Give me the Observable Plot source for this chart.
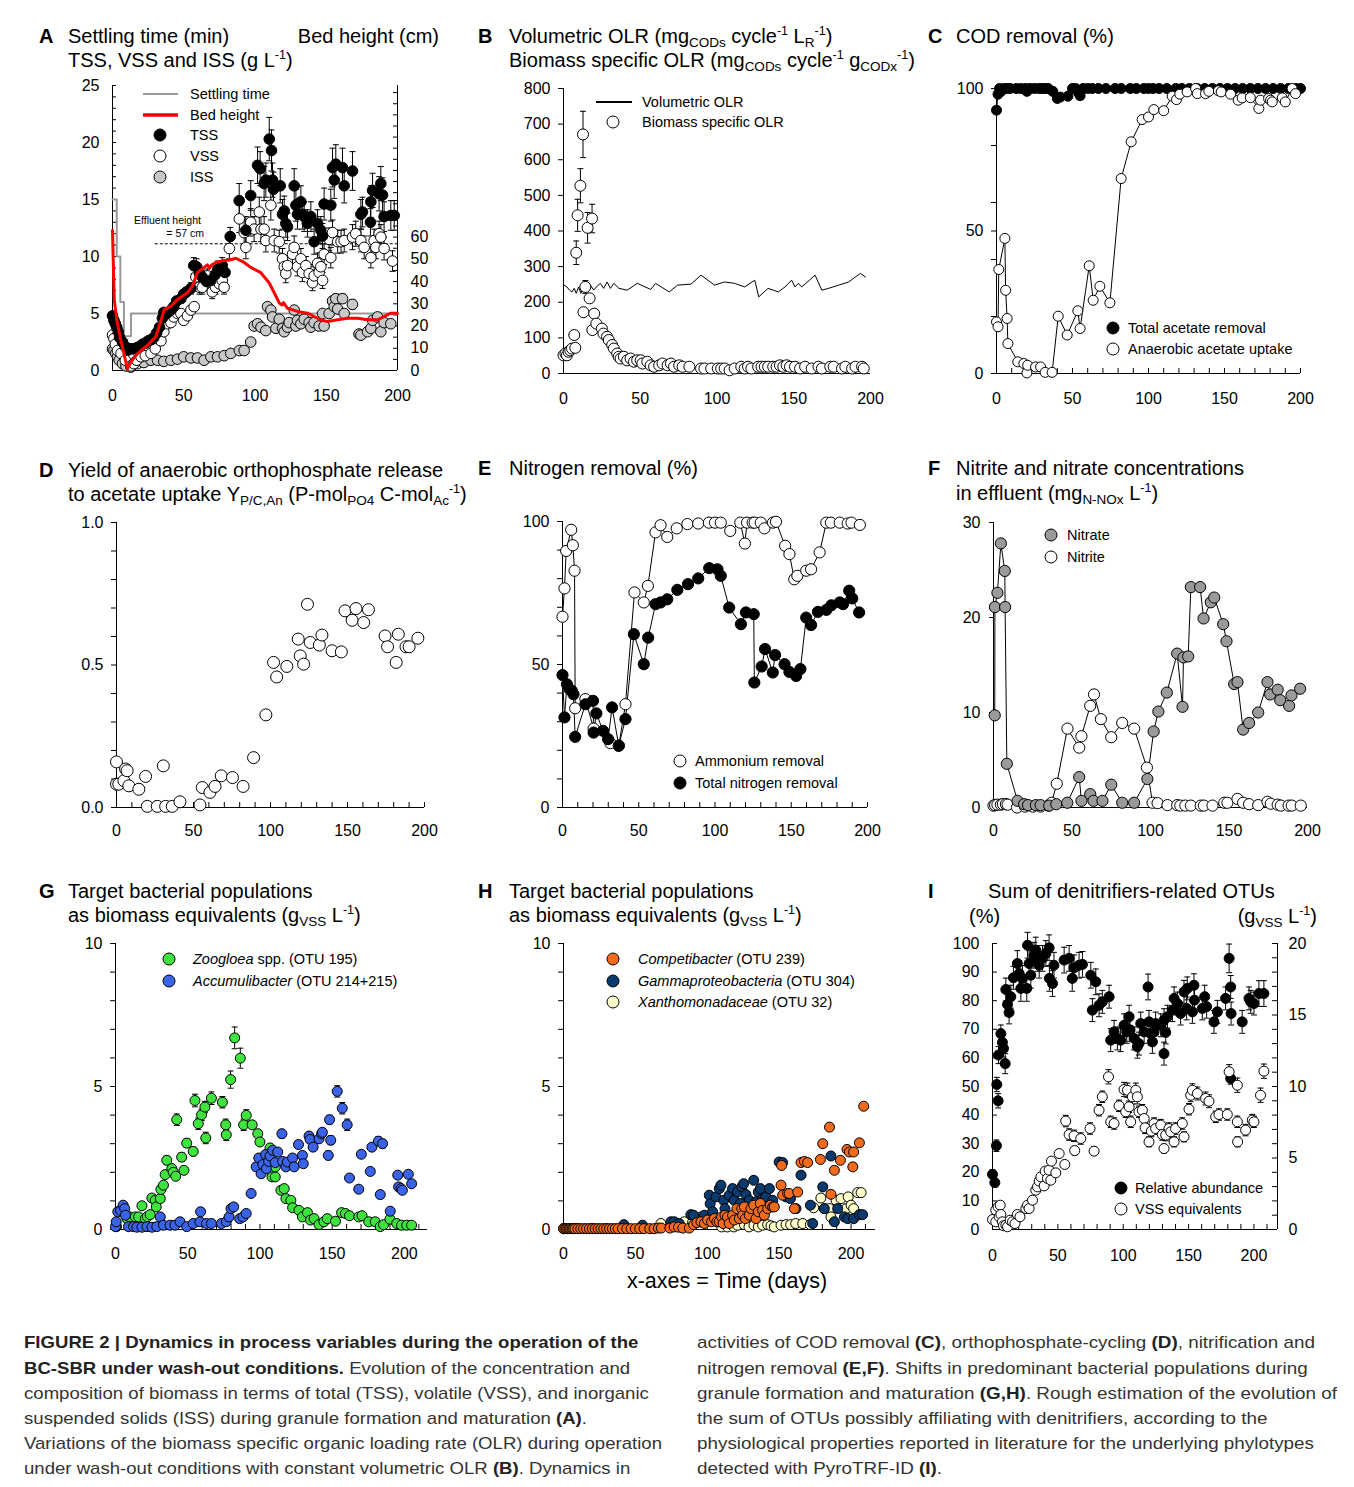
<!DOCTYPE html>
<html><head><meta charset="utf-8">
<script src="https://cdn.jsdelivr.net/npm/d3@7"></script>
<script src="https://cdn.jsdelivr.net/npm/@observablehq/plot@0.6"></script>
<style>
body{margin:0;background:#fff;}
#page{position:relative;width:1354px;height:1487px;overflow:hidden;font-family:"Liberation Sans",Arial,Helvetica,sans-serif;color:#000;background:#fff;}
.t{position:absolute;white-space:nowrap;font-size:20px;line-height:24px;}
.t sub{font-size:13.5px;vertical-align:-4px;line-height:0;}
.t sup{font-size:12.5px;vertical-align:8px;line-height:0;}
.lg{position:absolute;white-space:nowrap;font-size:14.5px;line-height:18px;}
.sm{position:absolute;white-space:nowrap;font-size:10.5px;line-height:13px;}
.cap{position:absolute;white-space:nowrap;font-size:17px;line-height:25.2px;color:#333;transform-origin:0 0;font-family:"Liberation Sans Narrow","Arial Narrow","Liberation Sans",Arial,sans-serif;}
.cap b{color:#222;}
svg.sym{position:absolute;overflow:visible;}
</style></head><body><div id="page"></div>
<script>
// ---------------- DATA ----------------
// Panel A (days, g/L, error)
const A_settling = [[0,15],[3,15],[3,10],[5.5,10],[5.5,6],[8,6],[8,3],[13,3],[13,5],[200,5]];
const A_bedHeight = [[0,63],[1.2,32],[3,22.8],[5.8,13.7],[10.5,0.8],[12.9,3.8],[17.5,7.6],[24.6,11.4],[30.4,15.2],[32.7,19.8],[36.3,27.4],[41,28.9],[45.6,31.9],[52.6,35],[56.1,38],[59.6,44],[64.3,46.4],[66.5,47.5],[68,46.2],[69.5,47.4],[72.5,48.6],[77.2,49.4],[83,49.8],[86.5,50.5],[92.4,48.6],[97,46.4],[104.1,44],[109.9,39.5],[113.5,35],[117,30.4],[119,29.5],[120,30.5],[122.8,28],[129.8,26.6],[136.8,25.8],[141.5,24.3],[146.2,22.8],[150.9,22],[157.9,22.8],[164.9,23.5],[172,23.5],[179,22.8],[186,22.8],[190.6,24.3],[195.3,25.8],[200,25.8]];
const A_effluent = [{height:57, from:30, to:200}];
const A_TSS = [[0,4.8],[1,4.4],[2,4.1],[3,3.8],[4,3.4],[5,2.9],[7,2.5],[9,2.1],[11,1.8],[13,1.9],[15,1.9],[17,2.0],[19,2.1],[21,2.3],[23,2.4],[25,2.6],[27,2.7],[29,2.9],[31,3.3],[33,3.8],[35,4.6],[36,5.1],[38,5.0],[41,5.3],[43,5.6],[45,6.1],[48,6.3],[50,6.7],[52,6.9],[55,7.2,0.5],[57,9.2,0.7],[59,9.1,0.7],[61,8.5,0.7],[63,8.2,0.6],[66,7.8,0.6],[69,7.9,0.6],[72,8.4,0.7],[74,8.9,0.7],[77,9.2,0.7],[79,8.6,0.7],[82.6,11.75,0.8],[88.9,14.9,1.5],[93.6,12.3,1.2],[97,15.35,1.3],[101.8,18.0,1.6],[103.6,17.7,1.5],[106.4,16.4,1.5],[107.6,16.7,1.5],[110,20.3,1.9],[111.6,19.3,1.8],[112.3,16.7,1.5],[113,15.9,1.5],[117.7,16.2,1.5],[119.3,13.7,1.3],[120.5,14.0,1.3],[121.6,12.9,1.2],[122.8,12.6,1.2],[127.5,16.2,1.5],[128.7,14.5,1.4],[129.8,13.7,1.3],[132.2,14.8,1.4],[133.3,13.7,1.3],[134.5,13.5,1.3],[136.8,12.9,1.2],[139.2,13.5,1.3],[141.5,11.3,1.1],[143.9,12.9,1.2],[146.2,12.3,1.2],[147.4,11.8,1.1],[148.5,14.6,1.4],[153.2,14.5,1.4],[154.4,17.8,1.7],[155.6,16.7,1.6],[156.7,18.1,1.7],[161.4,17.8,1.7],[162.6,16.2,1.5],[168.4,17.5,1.7],[174.3,13.7,1.3],[175.4,13.9,1.3],[181.3,14.8,1.4],[182.5,15.8,1.5],[181,13.0,1.2],[187.1,15.5,1.5],[188.3,16.4,1.5],[189.5,15.4,1.5],[190.6,13.5,1.3],[195.3,13.6,1.3],[197.7,13.6,1.3]];
const A_VSS = [[0,3.1],[1,2.8],[2,2.3],[3.5,1.75],[6,1.5],[9,0.9],[12.9,0.4],[15,0.6],[17,0.9],[20,1.2],[23,1.3],[27,1.5],[30,1.9],[34,2.6],[36,3.4],[38.5,4.1],[41,4.2],[43,4.7],[45.6,5.0],[48,5.0],[50,4.4],[52.6,4.8],[55,5.3],[57.3,5.6],[58.5,8.2,0.6],[61,7.3,0.6],[63,7.3,0.6],[65.5,8.0,0.6],[66.7,8.3,0.6],[70,6.9,0.6],[72.3,7.3,0.6],[75,7.6,0.6],[77,7.9,0.6],[78.3,7.3,0.6],[82,10.7,0.9],[89,13.3,1.2],[92.4,12.1,1.1],[93.6,10.8,1.0],[97,13.0,1.2],[99.4,12.4,1.1],[103,13.9,1.3],[104.2,12.4,1.1],[106.4,12.4,1.1],[107.6,11.4,1.0],[111.1,14.5,1.3],[113.5,11.4,1.0],[117,11.3,1.0],[119.3,9.8,0.9],[120.5,9.1,0.8],[121.6,8.5,0.8],[122.8,9.2,0.8],[126.3,10.2,0.9],[127.5,10.8,1.0],[129.8,9.1,0.8],[132.2,9.8,0.9],[133.3,8.6,0.8],[135.7,9.2,0.8],[138,8.5,0.8],[140.4,7.7,0.7],[141.5,8.3,0.8],[143.9,9.4,0.9],[145,8.6,0.8],[146.2,9.1,0.8],[147.4,7.9,0.7],[148.5,10.2,0.9],[152,11.5,1.0],[153.2,9.9,0.9],[154.4,12.1,1.1],[158,11.3,1.0],[160.4,11.3,1.0],[162.6,11.4,1.0],[168.4,11.7,1.1],[170.7,12.0,1.1],[174.3,11.4,1.0],[176.6,10.8,1.0],[181.3,9.9,0.9],[183.6,11.4,1.0],[184.8,10.8,1.0],[187.1,12.0,1.1],[188.3,11.7,1.1],[190.6,10.7,1.0],[196.5,9.6,0.9]];
const A_ISS = [[0,1.9],[1,1.75],[2.3,1.5],[3.5,1.2],[4.7,0.9],[7,0.6],[9.4,0.4],[12.9,0.3],[17.5,0.6],[22,0.7],[27,0.9],[31.6,0.9],[36,0.8],[41,0.9],[45.6,1.0],[50,1.2],[55,1.1],[59.6,1.1],[64.3,0.9],[69,1.2],[73.7,1.2],[78.4,1.3],[83,1.5],[89,1.75],[92.4,1.75],[97,2.5],[99.4,3.9],[101.8,4.1],[104.2,3.8],[107.6,3.5],[108.8,5.6],[111.1,5.3],[112.3,4.7],[114.7,3.7],[117,4.5],[119.3,3.7],[120.5,3.4],[122.8,3.8],[124,4.2],[127.5,5.3],[128.7,3.9],[129.8,4.4],[132.2,4.1],[134.5,4.5],[138,4.2],[139.2,3.8],[141.5,4.2],[145,3.9],[147.4,5.0],[148.5,3.9],[152,5.0],[154.4,6.1,0.4],[155.6,5.6],[156.7,6.3,0.4],[158,5.4],[161.4,6.3,0.4],[162.6,5.0],[168.4,5.8,0.4],[173,3.2],[174.3,3.1],[179,3.4],[181.3,3.7],[182.5,4.4],[186,4.7],[188.3,3.4],[190.6,4.2],[195.3,4.1]];
// Panel B
const B_volumetric = [[0.4,248],[2.2,243],[3.9,234],[5.5,229],[7,239],[8.3,225],[9.8,243],[11.4,225],[13.1,253],[15.3,243],[17.5,248],[19.7,234],[21.4,243],[24,253],[26.2,239],[28.4,257],[30.6,239],[32.8,253],[36.1,239],[41.5,234],[48.1,253],[56.8,236],[60,253],[68.9,229],[74.3,248],[83.1,251],[89.6,276],[98.4,248],[104.9,257],[111.5,253],[118,243],[124.6,262],[127.2,215],[133.3,239],[139.9,229],[144.3,243],[148.6,262],[150.8,243],[153,253],[155.2,243],[163.9,276],[168.3,234],[172.7,239],[179.2,248],[185.8,257],[190.2,271],[193.4,281],[196.7,271]];
const B_specific = [[0,51],[1.3,56],[2.2,51],[3.3,61],[4.4,65],[5.5,70],[7,108],[7.7,72],[8.3,339,33],[9.2,444,45],[11,527,48],[12.7,671,65],[13,172],[14.2,243,18],[15.7,409,43],[17,211],[18.6,435,40],[18.8,122],[20,168],[21.4,140],[25,126],[26,112],[28.4,103],[29.5,94],[31.7,80],[32.8,70],[35,56],[36,47],[37.2,42],[39.3,47],[41.5,37],[43.7,42],[45.9,33],[48,37],[50.3,37],[51.4,28],[54.6,33],[56.8,23],[59,19],[62.3,23],[64.5,28],[67.8,23],[70,28],[72,19],[75.4,23],[77.6,19],[82,19],[89.6,14],[91.8,14],[96.2,14],[100.5,14],[102.7,14],[105,14],[108.2,9],[111.5,14],[115.8,19],[118,14],[120.2,19],[122.4,14],[126.8,19],[129,19],[131.1,19],[133.3,19],[136.6,19],[138.8,19],[141,23],[143.2,19],[145.4,23],[147.5,19],[150.8,19],[154.1,14],[157.4,19],[161.7,14],[166.1,19],[168.3,14],[173.8,19],[176,19],[181.4,14],[183.6,19],[188,14],[190.2,19],[194.5,19],[195.6,14]];
// Panel C
const C_total = [[0,92.4],[1,98],[2,100],[3,99],[5,100],[7,100],[9,100],[13,100],[16,100],[19,100],[20,99],[22,100],[25,100],[28,100],[30,100],[32,100],[34,100],[37,99],[40,96.5],[42,97],[47,97.3],[50,100],[52,100],[54,98.5],[55,97.5],[57,100],[60,100],[63,100],[67,100],[72,100],[78,100],[82,100],[88,100],[92,100],[97,100],[100,100],[103,100],[107,100],[112,100],[118,100],[122,100],[127,100],[132,100],[137,100],[142,100],[147,100],[152,100],[157,100],[162,100],[167,100],[172,100],[177,100],[182,100],[187,100],[192,100],[197,100],[200,100]];
const C_anaerobic = [[0,18.1],[1,16.4],[1.5,36.5],[5.5,47.4],[6,29.2],[7,19.3],[7.5,10.5],[14,4.1],[18,3.5],[20,0.2],[20.5,2.9],[25.7,2.3],[29,2.3],[32,0.4],[36.6,0.4],[40.6,20.1],[46.5,13.5],[53.5,22],[55,15.8],[61,37.8],[63.6,25.7],[68,30.6],[74.6,24.8],[82,68.4],[88.6,81.3],[95.8,89.1],[100,90],[103.5,92.6],[110,92.2],[115.6,97.3],[118.4,96.1],[120.6,98],[125.4,98.8],[131,100],[132.1,98.2],[137.5,98.2],[139.7,99],[146,99.2],[147.8,98.8],[154,98],[159,95.9],[161.6,96.7],[167,96.8],[172.6,93],[173.7,95.9],[179,96.5],[180.3,95.9],[181.4,95.3],[188,96.7],[190,95.3],[194.5,100],[196.7,98.2]];
// Panel D
const D_yield = [[0,0.082],[0,0.16],[1.5,0.082],[4.8,0.094],[5.9,0.135],[6.9,0.129],[8,0.076],[14.5,0.064],[18.9,0.109],[20,0.004],[26.5,0.004],[30.4,0.146],[31.9,0.004],[36.2,0.004],[41.2,0.02],[54.2,0.009],[55.7,0.07],[60.7,0.053],[64,0.074],[68,0.111],[75.3,0.105],[82.2,0.074],[89,0.175],[97,0.325],[102,0.509],[104,0.458],[110.6,0.495],[118,0.591],[119.3,0.532],[121.5,0.503],[124,0.713],[125.8,0.579],[131.7,0.57],[133.4,0.605],[140,0.55],[146,0.546],[148.4,0.69],[153,0.657],[155.5,0.698],[160.5,0.649],[163.6,0.694],[174.4,0.602],[176,0.564],[181.6,0.509],[183,0.608],[188,0.564],[190,0.564],[195.7,0.594]];
// Panel E
const E_ammonium = [[0,66.7],[1.3,76.6],[2.4,89.7],[5.7,97.1],[6.8,91.7],[7.9,82.8],[8.3,34.7],[15,37.9],[20.4,27.6],[31.4,22.5],[36.9,21.6],[41.3,36.1],[47.2,75.2],[53.3,71.7],[56,77.5],[61,96.2],[64.3,98.7],[68.7,94.6],[74.9,97.6],[81.9,99.1],[89,99.3],[96,99.6],[100,99.6],[103.8,99.6],[110,96.7],[116.6,99.6],[119.6,92.3],[121,99.6],[124.7,99.6],[126,99.6],[130,99.6],[132.4,97.6],[138,99.6],[140,99.9],[146,91.5],[148.8,88.6],[152,79.8],[154,81],[159.8,82.8],[163,83.3],[168.6,89.2],[173,99.6],[176,99.6],[181.8,99.6],[187,99.3],[189.5,99.6],[195,98.8]];
const E_totalN = [[0,46.3],[1.3,31.5],[2.9,43.1],[4.6,41.4],[6.1,40.8],[7.2,39.6],[8.3,24.7],[15,36.1],[20,37.3],[20.4,26.2],[22.2,32.9],[26.6,26.8],[29.9,23.9],[32.5,35],[36.9,21.6],[41.3,30.9],[46.8,60.6],[53.3,50.1],[56.2,59.4],[61,71.1],[64.3,71.7],[68.7,72.8],[75.3,76.1],[82.3,78.1],[89,80.1],[96.2,83.7],[101.6,83.3],[103.8,81],[109.3,69.9],[117,64.1],[120.3,68.2],[125.4,67.6],[125.8,43.7],[130.6,49.3],[132.8,55.4],[137.9,47.2],[139.4,53.3],[145.6,50.1],[148.8,47.4],[153.2,46],[156,48.4],[159.8,66.4],[163,63.8],[167.5,68.4],[173,69.1],[176.3,70.7],[181.8,71.7],[184,71.1],[188,75.8],[190,73.1],[194.5,68.2]];
// Panel F
const F_nitrate = [[0.8,9.7],[0.9,21.1],[2.5,22.6],[4.7,27.8],[7.2,24.9],[7.4,21.1],[8.5,4.6],[15.3,0.7],[19.5,0.35],[22,0.25],[27,0.25],[30,0.25],[35.5,0.2],[40,0.35],[47,0.5],[54.6,3.2],[56,0.7],[61.6,1.4],[63.7,0.7],[69.4,0.7],[75,2.4],[82,0.5],[89.6,0.5],[98,3.0],[102,8.0],[105,10.1],[110.4,12.1],[117,16.2],[120.4,10.6],[121,15.8],[124,15.9],[125.7,23.2],[131.6,23.2],[133.8,19.9],[138.4,21.6],[140.6,22.1],[146.3,19.3],[148.4,17.5],[153.3,13],[155.4,13.2],[159,8.2],[162.8,8.9],[168.6,10],[174.5,13.2],[176.2,11.9],[181,12.4],[182.6,11.3],[188.3,10.7],[189.8,11.8],[195.3,12.5]];
const F_nitrite = [[0,0.2],[1,0.25],[2.5,0.3],[4.7,0.3],[6,0.35],[7.9,0.35],[9,0.3],[15,0],[20,0.1],[25,0.1],[30,0.1],[35,0.2],[37,0.5],[40.3,2.5],[47.1,8.3],[54.6,6.3],[56,7.5],[61.6,10.7],[64,11.9],[68.4,9.3],[75,7.4],[82,8.9],[89.6,8.3],[97.7,4.2],[101.3,0.5],[104.5,0.46],[110.8,0.25],[117,0.25],[119,0.2],[122.2,0.2],[125.7,0.2],[132,0.2],[134,0.2],[139.5,0.2],[147,0.5],[149,0.5],[155.4,0.9],[159,0.5],[162.8,0.35],[168.6,0.25],[174.5,0.6],[176.6,0.4],[181,0.3],[183,0.2],[188,0.2],[190,0.2],[195.7,0.2]];
// Panel G
const G_zoogloea = [[0.7,0.1],[8,0.38],[10,0.44],[13.7,0.44],[16,0.44],[18.3,0.83],[20.6,0.38],[22,0.45],[24,0.52],[25.2,1.1],[27.5,1.02],[28.2,0.79],[31,1.08],[31.4,1.4],[33.2,1.55],[34.4,1.92],[35.5,2.42,0.15],[39,2.13],[40,2.0],[41.7,1.86],[42.4,3.84,0.2],[45.8,2.53,0.15],[47.4,2.07],[49.3,3.02,0.15],[53.8,2.73,0.15],[55,4.51,0.22],[57.3,3.7,0.2],[59.6,4.01,0.2],[61.9,4.28,0.2],[62.5,3.2,0.2],[66.4,4.59,0.22],[74,4.45,0.2],[76.3,3.66,0.2],[76.7,3.31,0.2],[79.7,5.24,0.3],[82.5,6.7,0.38],[86.4,5.99,0.35],[88.7,3.66,0.2],[90.5,3.99,0.2],[94.6,3.66],[98.5,3.35],[100,3.06],[107,2.85],[108.4,1.84],[110.6,1.84],[110.6,2.19],[114.5,1.37],[116.8,1.43],[118,1.08],[121.4,1.02],[122.6,0.76],[127,0.67],[129.4,0.44],[132.9,0.59],[135,0.33],[137.5,0.38],[140.9,0.17],[144.3,0.27],[146.6,0.38],[152.3,0.29],[156.5,0.59],[159.2,0.56],[162,0.48],[168.4,0.44],[170.7,0.48],[175.3,0.27],[179.8,0.27],[183.3,0.1],[185.6,0.17],[190,0.36],[194.7,0.21],[198,0.15],[201.6,0.15],[205,0.15]];
const G_accumulibacter = [[0,0.1],[0.5,0.27],[1.6,0.62],[3.5,0.67],[5.3,0.85],[6.4,0.73],[6.9,0.5],[9,0.1],[12.5,0.1],[14.8,0.08],[18.3,0.08],[21.8,0.1],[25.2,0.08],[28.6,0.1],[31,0.44],[33.2,0.15],[37.8,0.15],[41.2,0.15],[44.7,0.27],[49.3,0.1],[53.8,0.21],[58.4,0.27],[58.9,0.62],[63,0.21],[66.4,0.21],[73.3,0.21],[76.7,0.27],[78.6,0.44],[80,0.73],[81.8,0.79],[86,0.38],[88.3,0.44],[90.5,0.56],[93.9,1.26],[97.4,2.19],[99.2,2.5],[100.8,1.95],[102,2.27],[104,2.62],[104.5,2.13],[106,2.38],[107,2.57],[108.8,2.77],[110.6,2.34],[112.3,2.71],[115.2,3.35,0.15],[115.7,2.38],[118,2.19],[119,2.36],[122.6,2.5],[123.7,2.19],[126.7,2.97],[129.4,2.59],[130,2.3],[134,3.27],[134.7,3.15],[136.8,2.88],[140.9,3.17],[142.7,3.35],[143.2,3.4],[147.3,2.59,0.15],[148.2,3.84,0.15],[149,3.12,0.15],[153.5,4.83,0.2],[157,4.24,0.2],[160.4,3.66,0.2],[162,1.8],[168.4,1.41],[170.2,2.63],[176.4,2.03],[177.5,2.88],[182,3.09,0.15],[183.3,1.22],[184.9,3.0,0.15],[190.2,0.64],[195.4,1.9],[196,1.49],[197.7,1.43],[198.6,1.37],[202.7,1.93],[205,1.6]];
// Panel H
const H_competibacter = [[0,0.03],[1,0.03],[2,0.03],[3,0.03],[4,0.03],[5,0.03],[6,0.03],[7,0.03],[8,0.03],[10,0.03],[12,0.03],[14,0.03],[16,0.03],[18,0.03],[20,0.03],[22,0.03],[24,0.03],[26,0.03],[28,0.03],[30,0.03],[32,0.03],[34,0.03],[36,0.03],[38,0.03],[41,0.03],[44,0.03],[47,0.03],[50,0.03],[53,0.03],[56,0.03],[60,0.03],[63,0.03],[66,0.05],[68,0.05],[74,0.05],[77,0.09],[80,0.08],[83,0.05],[87.5,0.05],[90.5,0.17],[92.8,0.24],[95.6,0.27],[98,0.21],[100.2,0.33],[103,0.27],[105,0.38],[106.7,0.27],[108.3,0.27],[110,0.44],[111,0.21],[112.3,0.5],[114,0.44],[115.3,0.21],[117.6,0.5],[118.8,0.33],[120.6,0.73],[122.3,0.38],[124,0.73],[124.6,0.5],[125.8,0.79],[126.5,0.38],[129.2,0.5],[130.4,0.73],[132.3,0.85],[133.9,0.38],[135.5,0.62],[136.9,0.91],[138.5,0.67],[139.7,0.5],[142,0.73],[143.9,0.85],[145.5,0.79],[146.6,0.79],[151.3,1.55],[151.7,2.24],[152.4,1.2],[155.9,1.26],[157,1.26],[160.6,0.73],[162.9,1.31],[165.2,2.34],[167.5,2.38],[169.8,2.34],[178.7,2.45],[180.3,3.0],[185,3.58],[186,1.23],[188.4,2.07],[192.6,2.42],[197.2,2.8],[198.8,2.71],[201.2,2.19],[201.8,2.71],[205.8,3.03],[208.8,4.31]];
const H_gammaproteo = [[0,0.03],[10,0.03],[20,0.03],[30,0.03],[42,0.17],[55,0.15],[74.7,0.27],[77,0.27],[80.5,0.21],[88.6,0.52],[90.5,0.5],[95.6,0.27],[98,0.5],[101.4,1.2],[102,0.9],[103.7,0.62],[106,1.14],[108.4,1.43],[109.5,1.55],[111.4,1.02],[112.3,0.73],[115.3,1.2],[117.6,1.43],[118.8,1.02],[121,1.31],[123,0.91],[124,1.49],[125.3,1.6],[126.9,1.22],[129.2,1.02],[132.3,1.72],[133.9,0.97],[135.5,1.31],[136.9,1.43],[138.5,1.08],[140.8,1.14],[143.2,1.43],[145.5,1.02],[150,2.36],[152.4,2.34],[154.8,1.14],[157.8,1.08],[161.7,0.73],[165.2,1.9],[171.7,0.85],[173.3,0.21],[180.3,1.49],[181.4,0.73],[186,2.57],[188.4,0.27],[190.7,0.73],[195.4,0.44],[197.7,0.38],[201.8,0.38],[205.8,0.52],[208,0.52]];
const H_xanthomonad = [[67.7,0.21],[75.9,0.17],[84,0.27],[89.8,0.25],[95.6,0.44],[110,0.09],[114,0.09],[118.5,0.09],[121,0.15],[125.8,0.17],[129,0.09],[132.5,0.15],[135.5,0.09],[138.5,0.15],[142,0.17],[144.3,0.13],[146.6,0.09],[151.3,0.15],[154.8,0.17],[158,0.17],[161.5,0.21],[166.4,0.21],[171.7,0.17],[174,0.76],[179,1.1],[181.4,0.73],[185,0.73],[186,0.44],[189.6,1.02],[193,1.08],[196.5,0.73],[198,1.14],[200,0.85],[201.8,0.73],[204.6,1.29],[207,1.29]];
// Panel I (relative abundance %, VSS equivalents g/L, error)
const I_relative = [[0,19.3,1.5],[1.8,16.4,1.5],[3,29.3,2],[3.3,50.7,2.5],[4.3,45,2.5],[4.6,61,3],[6.4,68.5,3],[7.6,65.4,3],[8.4,63.3,3],[9.7,58,3.5],[10.2,83.9,4],[11.5,78.7,4],[12.7,75.9,4],[14,81.4,4],[16,88,4],[19,93,4.5],[20.4,89.5,4.5],[21.7,84.3,4.5],[22.9,87.8,4.5],[26.2,84.3,4.5],[26.8,99.4,4.5],[28,93,4.5],[29.3,88.9,4.5],[31.8,95.9,4.5],[33.1,97.7,4.5],[34.4,94.8,4.5],[35.7,92.4,4.5],[38.2,94.8,4.5],[40.8,96.5,4.5],[43.3,98.5,4.5],[43.5,87.8,4.5],[45.9,86,4.5],[47,92.4,4.5],[54.8,94.2,4.5],[58.6,94.8,4.5],[61,87.8,4.5],[62.4,91.5,4.5],[66.2,92.4,4.5],[68.8,92.7,4.5],[75.2,88.9,4.5],[76.4,76.7,4],[79,86.6,4.5],[81.5,78.4,4],[84,79.6,4],[89.2,81.4,4],[90.4,66.2,4],[93,69.1,4],[95.5,66.8,4],[98,66.2,4],[100.6,71.4,4],[102.7,69.1,4],[104.5,74.4,4],[105.2,69.8,4],[108.3,66.8,4],[110.8,63.9,4],[112,65,4],[113.4,72,4],[116,69.1,4],[119,84.8,4.5],[119.7,72.6,4],[121,68.5,4],[122.3,65.6,4],[123.6,69.1,4],[124.8,72,4],[128.7,71.4,4],[131.2,73.2,4],[131.2,61.5,4],[132.5,68.9,4],[133.8,74.4,4],[137.6,76.7,4],[138.9,80.8,4],[141.4,79,4],[143.9,75.5,4],[146.5,83.1,4],[148.5,77.3,4],[149,84.3,4],[152.9,76.1,4],[154.1,85.4,4],[154.5,80.2,4],[160.5,77.3,4],[162.3,81.4,4],[163.8,77.9,4],[169.4,72.6,4],[172,76.1,4],[178.3,80.8,4],[181,94.8,5],[182.2,84.8,4],[182.5,75.5,4],[182.2,52.8,2],[191,72.6,4],[196.2,80.8,4],[197.5,79.6,4],[200,79,4],[203.8,82.5,4.5],[207.6,82.5,4.5]];
const I_vss = [[0,0.7],[2.5,0.54],[2.5,1.35],[4.3,1.59],[5.1,0.89],[5.9,1.7],[6.4,1.05],[7.6,0.54],[8.4,0.26],[10.2,0.3],[11.5,0.19],[13.5,0.65],[15.3,0.54],[17.2,0.42],[19,1.05],[21,0.89],[25.5,1.47],[26.8,1.7],[28,1.47],[30.6,2.05],[33.1,2.75],[34.4,2.98],[35.7,3.38],[37,3.68],[39.5,3.05],[40.3,4.08],[42,3.57],[43.3,4.15],[44.6,3.45],[45.1,4.78],[48.4,3.96],[51,5.31],[55.3,4.55],[56,7.58,0.4],[58.6,6.64,0.4],[62.4,6.55,0.4],[62.9,5.52,0.3],[67.5,6.36,0.4],[74.6,7.06,0.4],[77.7,5.48,0.3],[81.5,8.34,0.4],[84,9.28,0.4],[88.7,10.68,0.5],[90.4,7.53,0.4],[93,7.41,0.4],[96.8,8.65,0.4],[100.6,9.79,0.5],[101.9,8.23,0.4],[103.2,9.74,0.5],[104.5,8.58,0.4],[105.7,7.53,0.4],[107,9.28,0.5],[109.6,9.74,0.5],[110.8,9.28,0.5],[112,8.23,0.4],[114.6,8.34,0.4],[116,7.76,0.4],[116.7,7.11,0.4],[119.7,6.13,0.35],[121.5,6.88,0.4],[123.6,7.41,0.4],[124.8,7.06,0.4],[128.7,7.3,0.4],[129.9,6.64,0.4],[131.2,5.66,0.3],[132.5,6.6,0.4],[135,7.06,0.4],[136.3,6.83,0.4],[138.9,6.13,0.35],[140,7.06,0.4],[145.2,7.41,0.4],[146.5,6.48,0.35],[150.3,8.41,0.4],[151.6,9.39,0.45],[152.9,9.74,0.45],[156.7,9.51,0.45],[163,9.16,0.45],[165.6,8.97,0.45],[170.7,7.88,0.4],[173.2,8.04,0.4],[179.6,8.04,0.4],[181,11.03,0.5],[187.3,7.53,0.4],[187.3,10.09,0.5],[187.5,6.13,0.35],[193.6,6.95,0.4],[198.7,7.65,0.4],[200,7.53,0.4],[205,9.39,0.5],[207.6,11.07,0.5]];
// Tick labels
const ticksDays = [0,50,100,150,200];
const ticksA = [0,5,10,15,20,25];
const ticksABed = [0,10,20,30,40,50,60];
const ticksB = [0,100,200,300,400,500,600,700,800];
const ticks0_100 = [0,50,100];
const ticksD = [0,0.5,1];
const ticksF = [0,10,20,30];
const ticksGH = [0,5,10];
const ticksI = [0,10,20,30,40,50,60,70,80,90,100];
const ticksIRight = [0,5,10,15,20];

// ---------------- HELPERS ----------------
const page = document.getElementById("page");
const FONT = '"Liberation Sans", Arial, Helvetica, sans-serif';
const KA = 0.195;   // bed height (cm) -> left axis units of panel A
const KI = 5;       // g/L -> % axis units of panel I
const X = d => d[0], Y = d => d[1];
const CAP = {draw(ctx, size){ const w = Math.sqrt(size / Math.PI); ctx.moveTo(-w, 0); ctx.lineTo(w, 0); }};
const M = {l:60, r:60, t:14, b:40};

function panel(g, xdom, ydom, marks){
  const svg = Plot.plot({
    width: g.x1 - g.x0 + M.l + M.r, height: g.y1 - g.y0 + M.t + M.b,
    marginLeft: M.l, marginRight: M.r, marginTop: M.t, marginBottom: M.b,
    x: {domain: xdom}, y: {domain: ydom},
    style: {fontSize: "16px", fontFamily: FONT, color: "#000", background: "transparent", overflow: "visible"},
    marks
  });
  svg.style.position = "absolute";
  svg.style.left = (g.x0 - M.l) + "px";
  svg.style.top = (g.y0 - M.t) + "px";
  page.appendChild(svg);
}
const W = g => g.x1 - g.x0, H = g => g.y1 - g.y0;
const xLabels = (vals, pad = 18) => Plot.axisX(vals, {anchor: "bottom", tickSize: 0, tickPadding: pad, label: null});
const yLabels = (vals, fmt, pad = 13) => Plot.axisY(vals, {anchor: "left", tickSize: 0, tickPadding: pad, label: null, tickFormat: fmt || (d => String(d))});
const yLabelsR = (vals, fmt, pad = 13) => Plot.axisY(vals, {anchor: "right", tickSize: 0, tickPadding: pad, label: null, tickFormat: fmt});
const xTicksUp = (vals, g, len = 5) => Plot.tickX(vals, {x: d => d, insetTop: H(g) - len, stroke: "#000"});
const yTicksOut = (vals, g, len = 5) => Plot.tickY(vals, {y: d => d, insetRight: W(g) - len, dx: -len, stroke: "#000"});
const yTicksInL = (vals, g, len = 5) => Plot.tickY(vals, {y: d => d, insetRight: W(g) - len, stroke: "#000"});
const yTicksInR = (vals, g, len = 5) => Plot.tickY(vals, {y: d => d, insetLeft: W(g) - len, stroke: "#000"});
const frameLines = (xdom, ydom, right = false) => [
  Plot.ruleX([xdom[0]], {stroke: "#000", strokeWidth: 1}),
  Plot.ruleY([ydom[0]], {stroke: "#000", strokeWidth: 1}),
  ...(right ? [Plot.ruleX([xdom[1]], {stroke: "#000", strokeWidth: 1})] : [])
];
const dots = (data, fill, r, yf = Y) => Plot.dot(data, {x: X, y: yf, r, fill, stroke: "#000", strokeWidth: 1});
const line = (data, stroke = "#000", w = 1, yf = Y, extra = {}) => Plot.line(data, {x: X, y: yf, stroke, strokeWidth: w, ...extra});
function errs(data, yf = Y, sc = 1, cap = 3){
  const e = data.filter(d => d[2]);
  return [
    Plot.ruleX(e, {x: X, y1: d => yf(d) - d[2] * sc, y2: d => yf(d) + d[2] * sc, stroke: "#000", strokeWidth: 1}),
    Plot.dot(e, {x: X, y: d => yf(d) + d[2] * sc, symbol: CAP, r: cap, fill: "none", stroke: "#000", strokeWidth: 1}),
    Plot.dot(e, {x: X, y: d => yf(d) - d[2] * sc, symbol: CAP, r: cap, fill: "none", stroke: "#000", strokeWidth: 1})
  ];
}
const range = (a, b, s) => d3.range(a, b + s / 2, s);

function text(html, x, yc, cls = "t", align = "left", lh = 24){
  const d = document.createElement("div");
  d.className = cls; d.innerHTML = html;
  if (align === "right") d.style.right = (1354 - x) + "px"; else d.style.left = x + "px";
  d.style.top = (yc - lh / 2) + "px";
  page.appendChild(d); return d;
}
function symCircle(cx, cy, fill, r = 6){
  const s = document.createElementNS("http://www.w3.org/2000/svg", "svg");
  s.setAttribute("class", "sym"); s.setAttribute("width", 2 * r + 2); s.setAttribute("height", 2 * r + 2);
  s.style.left = (cx - r - 1) + "px"; s.style.top = (cy - r - 1) + "px";
  s.innerHTML = `<circle cx="${r + 1}" cy="${r + 1}" r="${r}" fill="${fill}" stroke="#000" stroke-width="1"/>`;
  page.appendChild(s);
}
function symLine(x0, x1, cy, stroke, w){
  const s = document.createElementNS("http://www.w3.org/2000/svg", "svg");
  s.setAttribute("class", "sym"); s.setAttribute("width", x1 - x0); s.setAttribute("height", 8);
  s.style.left = x0 + "px"; s.style.top = (cy - 4) + "px";
  s.innerHTML = `<line x1="0" x2="${x1 - x0}" y1="4" y2="4" stroke="${stroke}" stroke-width="${w}"/>`;
  page.appendChild(s);
}
const lgText = (html, x, yc) => text(html, x, yc, "lg", "left", 18);

// ---------------- PANEL A ----------------
const gA = {x0: 112, x1: 397, y0: 85, y1: 370};
panel(gA, [0, 200], [0, 25], [
  ...frameLines([0, 200], [0, 25], true),
  yTicksInL(range(0, 25, 1), gA, 4),
  yTicksInR(range(0, 125, 5).map(c => c * KA), gA, 4),
  yLabels(ticksA), yLabelsR(ticksABed.map(c => c * KA), d => String(Math.round(d / KA))),
  xLabels(ticksDays, 19),
  line(A_settling, "#999", 2),
  Plot.ruleY(A_effluent, {y: d => d.height * KA, x1: d => d.from, x2: d => d.to, stroke: "#000", strokeWidth: 1, strokeDasharray: "3,2"}),
  ...errs(A_ISS), ...errs(A_VSS), ...errs(A_TSS),
  dots(A_ISS, "#c8c8c8", 5.3),
  dots(A_VSS, "#fff", 5.3),
  dots(A_TSS, "#000", 5.3),
  line(A_bedHeight, "#ff0000", 3, d => d[1] * KA)
]);

// ---------------- PANEL B ----------------
const gB = {x0: 563, x1: 870, y0: 88, y1: 373};
panel(gB, [0, 200], [0, 800], [
  ...frameLines([0, 200], [0, 800]),
  yTicksOut(ticksB, gB, 5),
  yLabels(ticksB), xLabels(ticksDays, 19),
  line(B_volumetric, "#000", 1),
  ...errs(B_specific),
  dots(B_specific, "#fff", 5.5)
]);

// ---------------- PANEL C ----------------
const gC = {x0: 996, x1: 1300, y0: 88, y1: 373};
panel(gC, [0, 200], [0, 100], [
  ...frameLines([0, 200], [0, 100]),
  yTicksOut([0, 20, 40, 50, 60, 80, 100], gC, 5),
  xTicksUp(range(10, 200, 10), gC, 5),
  yLabels(ticks0_100), xLabels(ticksDays, 19),
  line(C_total, "#000", 1),
  line(C_anaerobic, "#000", 1),
  dots(C_total, "#000", 5),
  dots(C_anaerobic, "#fff", 5)
]);

// ---------------- PANEL D ----------------
const gD = {x0: 116, x1: 424, y0: 522, y1: 807};
panel(gD, [0, 200], [0, 1], [
  ...frameLines([0, 200], [0, 1]),
  yTicksOut(range(0, 1, 0.1), gD, 5),
  xTicksUp(range(10, 200, 10), gD, 5),
  yLabels(ticksD, d3.format(".1f")), xLabels(ticksDays, 17),
  dots(D_yield, "#fff", 6)
]);

// ---------------- PANEL E ----------------
const gE = {x0: 562, x1: 867, y0: 521, y1: 807};
panel(gE, [0, 200], [0, 100], [
  ...frameLines([0, 200], [0, 100]),
  yTicksOut(range(0, 100, 10), gE, 5),
  xTicksUp(range(10, 200, 10), gE, 5),
  yLabels(ticks0_100), xLabels(ticksDays, 17),
  line(E_ammonium), line(E_totalN),
  dots(E_ammonium, "#fff", 5.6),
  dots(E_totalN, "#000", 5.6)
]);

// ---------------- PANEL F ----------------
const gF = {x0: 993, x1: 1307, y0: 522, y1: 807};
panel(gF, [0, 200], [0, 30], [
  ...frameLines([0, 200], [0, 30]),
  yTicksOut(ticksF, gF, 4),
  yLabels(ticksF), xLabels(ticksDays, 17),
  line(F_nitrite), line(F_nitrate),
  dots(F_nitrite, "#fff", 5.6),
  dots(F_nitrate, "#9a9a9a", 5.6)
]);

// ---------------- PANEL G ----------------
const gG = {x0: 115, x1: 427, y0: 943, y1: 1229};
panel(gG, [0, 216], [0, 10], [
  ...frameLines([0, 216], [0, 10]),
  yTicksOut(range(0, 10, 1), gG, 5),
  xTicksUp(range(10, 210, 10), gG, 5),
  yLabels(ticksGH), xLabels(ticksDays, 18),
  ...errs(G_zoogloea), ...errs(G_accumulibacter),
  dots(G_zoogloea, "#3ee33e", 5),
  dots(G_accumulibacter, "#3b63e8", 5)
]);

// ---------------- PANEL H ----------------
const gH = {x0: 563, x1: 875, y0: 943, y1: 1229};
panel(gH, [0, 217], [0, 10], [
  ...frameLines([0, 217], [0, 10]),
  yTicksOut(range(0, 10, 1), gH, 5),
  xTicksUp(range(10, 210, 10), gH, 5),
  yLabels(ticksGH), xLabels(ticksDays, 18),
  dots(H_xanthomonad, "#ffffcc", 5),
  dots(H_gammaproteo, "#0b3a6e", 5),
  dots(H_competibacter, "#f26a1b", 5)
]);

// ---------------- PANEL I ----------------
const gI = {x0: 992, x1: 1277, y0: 943, y1: 1229};
panel(gI, [0, 218], [0, 100], [
  ...frameLines([0, 218], [0, 100], true),
  yTicksInL(range(0, 100, 10), gI, 5),
  yTicksInR(range(0, 20, 1).map(v => v * KI), gI, 5),
  xTicksUp(range(10, 210, 10), gI, 5),
  yLabels(ticksI), yLabelsR(ticksIRight.map(v => v * KI), d => String(d / KI), 11),
  xLabels(ticksDays, 20),
  ...errs(I_relative), ...errs(I_vss, d => d[1] * KI, KI),
  dots(I_relative, "#000", 5),
  dots(I_vss, "#fff", 5, d => d[1] * KI)
]);

// ---------------- TITLES ----------------
text("<b>A</b>", 39, 36); text("Settling time (min)", 68, 36); text("Bed height (cm)", 439, 36, "t", "right");
text("TSS, VSS and ISS (g L<sup>-1</sup>)", 68, 60);
text("<b>B</b>", 478, 36); text("Volumetric OLR (mg<sub>CODs</sub> cycle<sup>-1</sup> L<sub>R</sub><sup>-1</sup>)", 509, 36);
text("Biomass specific OLR (mg<sub>CODs</sub> cycle<sup>-1</sup> g<sub>CODx</sub><sup>-1</sup>)", 509, 60);
text("<b>C</b>", 928, 36); text("COD removal (%)", 956, 36);
text("<b>D</b>", 39, 470); text("Yield of anaerobic orthophosphate release", 68, 470);
text("to acetate uptake Y<sub>P/C,An</sub> (P-mol<sub>PO4</sub> C-mol<sub>Ac</sub><sup>-1</sup>)", 68, 494);
text("<b>E</b>", 478, 468); text("Nitrogen removal (%)", 509, 468);
text("<b>F</b>", 928, 468); text("Nitrite and nitrate concentrations", 956, 468);
text("in effluent (mg<sub>N-NOx</sub> L<sup>-1</sup>)", 956, 493);
text("<b>G</b>", 39, 891); text("Target bacterial populations", 68, 891);
text("as biomass equivalents (g<sub>VSS</sub> L<sup>-1</sup>)", 68, 915);
text("<b>H</b>", 478, 891); text("Target bacterial populations", 509, 891);
text("as biomass equivalents (g<sub>VSS</sub> L<sup>-1</sup>)", 509, 915);
text("<b>I</b>", 928, 891); text("Sum of denitrifiers-related OTUs", 988, 891);
text("(%)", 969, 916); text("(g<sub>VSS</sub> L<sup>-1</sup>)", 1317, 916, "t", "right");
const xt = text("x-axes = Time (days)", 727, 1281, "t"); xt.style.fontSize = "21.5px"; xt.style.transform = "translateX(-50%)";

// ---------------- LEGENDS ----------------
symLine(143, 178, 94, "#999", 2); lgText("Settling time", 190, 94);
symLine(143, 178, 115, "#ff0000", 3.5); lgText("Bed height", 190, 115);
symCircle(160, 135, "#000"); lgText("TSS", 190, 135);
symCircle(160, 156, "#fff"); lgText("VSS", 190, 156);
symCircle(160, 177, "#c8c8c8"); lgText("ISS", 190, 177);
text("Effluent height", 134, 220, "sm", "left", 13);
text("= 57 cm", 204, 233, "sm", "right", 13);

symLine(596, 632, 102, "#000", 2); lgText("Volumetric OLR", 642, 102);
symCircle(613, 122, "#fff"); lgText("Biomass specific OLR", 642, 122);

symCircle(1113, 328, "#000"); lgText("Total acetate removal", 1128, 328);
symCircle(1113, 349, "#fff"); lgText("Anaerobic acetate uptake", 1128, 349);

symCircle(680, 761, "#fff"); lgText("Ammonium removal", 695, 761);
symCircle(680, 783, "#000"); lgText("Total nitrogen removal", 695, 783);

symCircle(1051, 535, "#9a9a9a"); lgText("Nitrate", 1067, 535);
symCircle(1051, 557, "#fff"); lgText("Nitrite", 1067, 557);

symCircle(169, 959, "#3ee33e"); lgText("<i>Zoogloea</i> spp. (OTU 195)", 193, 959);
symCircle(169, 981, "#3b63e8"); lgText("<i>Accumulibacter</i> (OTU 214+215)", 193, 981);

symCircle(613, 959, "#f26a1b"); lgText("<i>Competibacter</i> (OTU 239)", 638, 959);
symCircle(613, 981, "#0b3a6e"); lgText("<i>Gammaproteobacteria</i> (OTU 304)", 638, 981);
symCircle(613, 1002, "#ffffcc"); lgText("<i>Xanthomonadaceae</i> (OTU 32)", 638, 1002);

symCircle(1121, 1188, "#000"); lgText("Relative abundance", 1135, 1188);
symCircle(1121, 1209, "#fff"); lgText("VSS equivalents", 1135, 1209);

// ---------------- CAPTION ----------------
const capL = text(
  "<b>FIGURE 2 | Dynamics in process variables during the operation of the</b><br>" +
  "<b>BC-SBR under wash-out conditions.</b> Evolution of the concentration and<br>" +
  "composition of biomass in terms of total (TSS), volatile (VSS), and inorganic<br>" +
  "suspended solids (ISS) during granule formation and maturation <b>(A)</b>.<br>" +
  "Variations of the biomass specific organic loading rate (OLR) during operation<br>" +
  "under wash-out conditions with constant volumetric OLR <b>(B)</b>. Dynamics in",
  24, 1343, "cap", "left", 25.2);
const capR = text(
  "activities of COD removal <b>(C)</b>, orthophosphate-cycling <b>(D)</b>, nitrification and<br>" +
  "nitrogen removal <b>(E,F)</b>. Shifts in predominant bacterial populations during<br>" +
  "granule formation and maturation <b>(G,H)</b>. Rough estimation of the evolution of<br>" +
  "the sum of OTUs possibly affiliating with denitrifiers, according to the<br>" +
  "physiological properties reported in literature for the underlying phylotypes<br>" +
  "detected with PyroTRF-ID <b>(I)</b>.",
  697, 1343, "cap", "left", 25.2);
[[capL, 638], [capR, 640]].forEach(([el, target]) => {
  const w = el.getBoundingClientRect().width;
  if (w > 0) el.style.transform = `scaleX(${target / w})`;
});
</script></body></html>
